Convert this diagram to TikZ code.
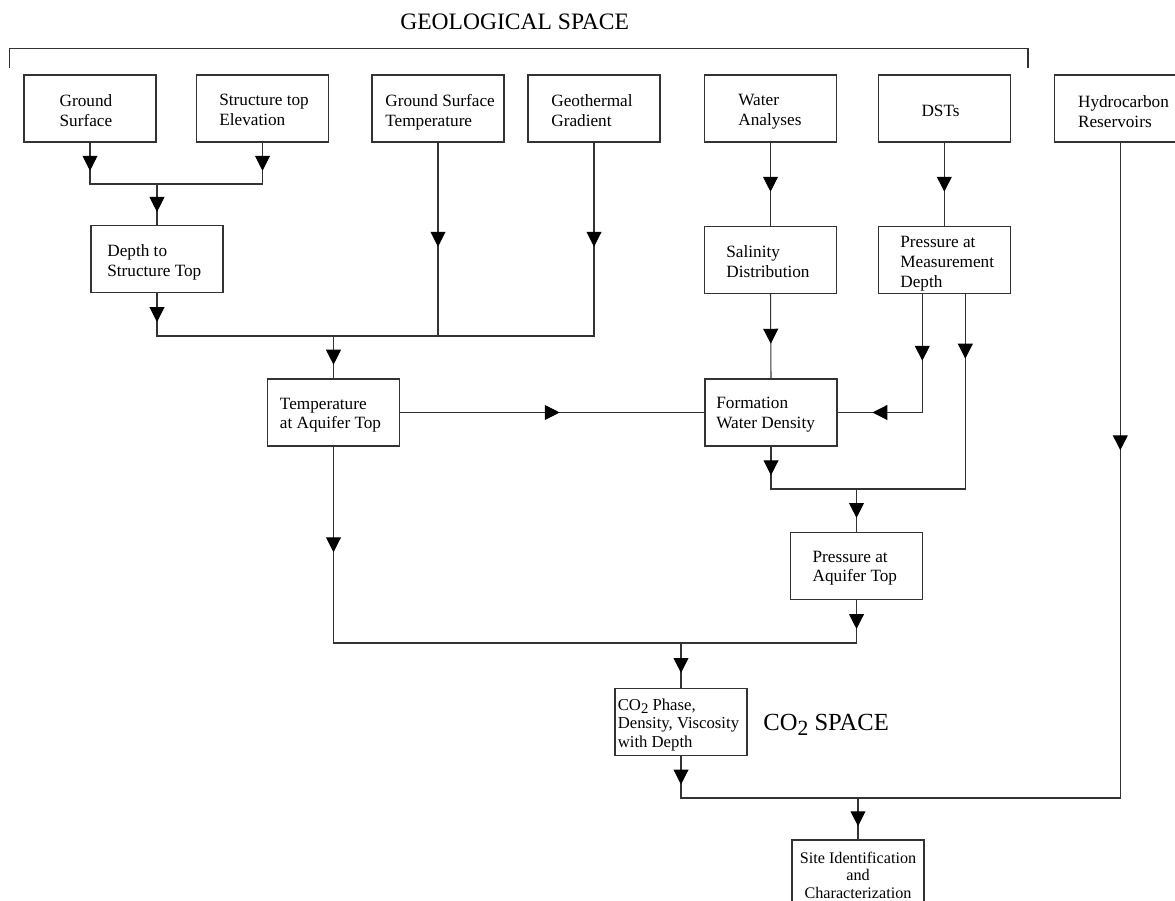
\documentclass[tikz,border=0pt]{standalone}
\usepackage{fontspec}
\usepackage{graphicx}
\setmainfont{Liberation Serif}
\usetikzlibrary{arrows.meta,decorations.markings,calc}

% CO2 with the lowered, slightly smaller digit
\newcommand{\COtwo}{CO\raisebox{-0.45ex}{\scalebox{0.88}{2}}}

\tikzset{
  box/.style={draw=black!80, line width=0.65pt, minimum width=2.64cm,
    minimum height=1.34cm, inner sep=0pt},
  lbl/.style={inner sep=0pt, align=left, anchor=north west,
    font=\fontsize{9.8pt}{11.3pt}\selectfont},
  link/.style={draw=black!80, line width=0.6pt, line cap=rect},
  am/.style={decoration={markings, mark=at position #1 with
    {\arrow[black, xshift=4.25pt]{Triangle[length=8.5pt,width=8.5pt]}}},
    postaction={decorate}},
  headtxt/.style={inner sep=0pt, anchor=base west,
    font=\fontsize{13.4pt}{15pt}\selectfont},
}

\begin{document}
\begin{tikzpicture}[x=0.02cm, y=-0.02cm]
\path[use as bounding box] (0,0) rectangle (1175,901);
\clip (0,0) rectangle (1175,901);

% headings
\node[headtxt] (geo) at (400,30) {GEOLOGICAL SPACE};
\node[headtxt, font=\fontsize{14pt}{16pt}\selectfont] (co2sp) at (763,730) {\COtwo{} SPACE};

% bracket over the geological inputs
\coordinate (brA) at (9.6,67);
\coordinate (brB) at (1028,48.3);
\coordinate (brC) at (1028,67);
\draw[link] (brA) |- (brB) -- (brC);

% boxes
\node[box] (gs)   at (90,108.5)    {};
\node[box] (ste)  at (262.5,108.5) {};
\node[box] (gst)  at (438,108.5)   {};
\node[box] (gg)   at (594,108.5)   {};
\node[box] (wa)   at (770.5,108.5) {};
\node[box] (dst)  at (944.3,108.5) {};
\node[box] (hc)   at (1120.3,108.5) {};
\node[box] (dts)  at (157,259)     {};
\node[box] (sal)  at (770.5,260)   {};
\node[box] (pmd)  at (944.3,260)   {};
\node[box] (temp) at (333.5,412.5) {};
\node[box] (fwd)  at (771,412.5)   {};
\node[box] (pat)  at (856.5,566)   {};
\node[box] (co2)  at (681,722)     {};
\node[box] (site) at (858,873.5)   {};

% box texts
\node[lbl] (gs-t)   at (59.3,94.2)  {Ground\\Surface};
\node[lbl] (ste-t)  at (219,94.2)   {Structure top\\Elevation};
\node[lbl] (gst-t)  at (385,94.2)   {Ground Surface\\Temperature};
\node[lbl] (gg-t)   at (551,94.2)   {Geothermal\\Gradient};
\node[lbl] (wa-t)   at (738,94.2)   {Water\\Analyses};
\node[lbl, anchor=base] (dst-t) at (940.5,116.7) {DSTs};
\node[lbl] (hc-t)   at (1077.7,94.9) {Hydrocarbon\\Reservoirs};
\node[lbl] (dts-t)  at (107,244.5)  {Depth to\\Structure Top};
\node[lbl] (sal-t)  at (726,245.5)  {Salinity\\Distribution};
\node[lbl] (pmd-t)  at (900,236)    {Pressure at\\Measurement\\Depth};
\node[lbl] (temp-t) at (279.6,397.5) {Temperature\\at Aquifer Top};
\node[lbl] (fwd-t)  at (716,397.2)  {Formation\\Water Density};
\node[lbl] (pat-t)  at (812.3,550.5) {Pressure at\\Aquifer Top};
\node[lbl, font=\fontsize{9.5pt}{10.5pt}\selectfont] (co2-t) at (617.5,698.6)
  {\COtwo{} Phase,\\Density, Viscosity\\with Depth};
\node[lbl, anchor=north, align=center, font=\fontsize{9.2pt}{10pt}\selectfont]
  (site-t) at (858,851.6) {Site Identification\\and\\Characterization};

% junction points of the collecting lines
\coordinate (b1) at (157,184);
\coordinate (b2) at (333.5,336);
\coordinate (b3) at (856.5,489);
\coordinate (b4) at (681,643);
\coordinate (b5) at (858,798);

% depth to structure top
\draw[link,am=0.5] (gs.south) -- (gs.south |- b1);
\draw[link,am=0.5] (ste.south) -- (ste.south |- b1);
\draw[link] (gs.south |- b1) -- (ste.south |- b1);
\draw[link,am=0.5] (b1) -- (dts.north);

% temperature at aquifer top
\draw[link,am=0.5] (dts.south) -- (dts.south |- b2);
\draw[link,am=0.5] (gst.south) -- (gst.south |- b2);
\draw[link,am=0.5] (gg.south) -- (gg.south |- b2);
\draw[link] (dts.south |- b2) -- (gg.south |- b2);
\draw[link,am=0.5] (b2) -- (temp.north);

% water side
\draw[link,am=0.5] (temp.east) -- (fwd.west);
\draw[link,am=0.5] (wa.south) -- (sal.north);
\draw[link,am=0.5] (dst.south) -- (pmd.north);
\draw[link,am=0.5] (sal.south) -- (fwd.north);
\coordinate (pmdL) at ($(pmd.south)+(-22,0)$);
\coordinate (pmdR) at ($(pmd.south)+(21,0)$);
\coordinate (elbow) at (pmdL |- fwd.east);
\draw[link,am=0.5] (pmdL) -- (elbow);
\draw[link,am=0.5] (elbow) -- (fwd.east);

% pressure at aquifer top
\draw[link,am=0.293] (pmdR) -- (pmdR |- b3);
\draw[link,am=0.5] (fwd.south) -- (fwd.south |- b3);
\draw[link] (fwd.south |- b3) -- (pmdR |- b3);
\draw[link,am=0.5] (b3) -- (pat.north);

% CO2 properties
\draw[link,am=0.5] (pat.south) -- (pat.south |- b4);
\draw[link,am=0.5] (temp.south) -- (temp.south |- b4);
\draw[link] (temp.south |- b4) -- (pat.south |- b4);
\draw[link,am=0.5] (b4) -- (co2.north);

% site identification
\draw[link,am=0.5] (co2.south) -- (co2.south |- b5);
\draw[link,am=0.458] (hc.south) -- (hc.south |- b5);
\draw[link] (co2.south |- b5) -- (hc.south |- b5);
\draw[link,am=0.5] (b5) -- (site.north);
\end{tikzpicture}
\end{document}
